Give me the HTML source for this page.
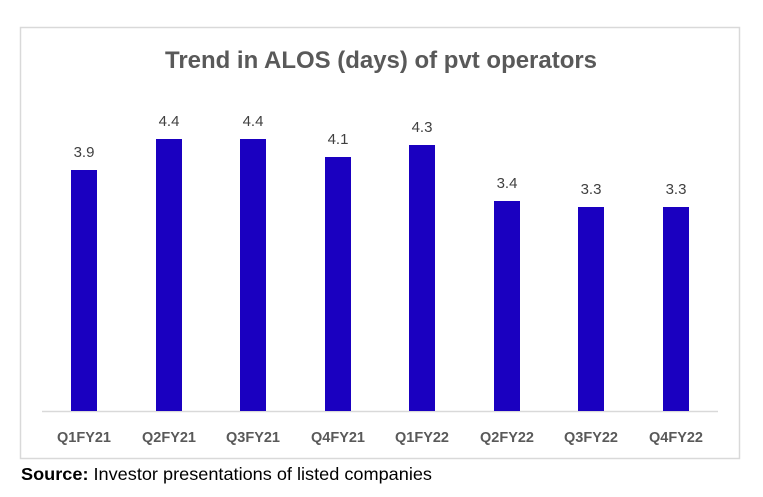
<!DOCTYPE html>
<html><head><style>
body{margin:0;background:#fff;width:763px;height:492px;overflow:hidden}
</style></head><body>
<svg width="763" height="492" xmlns="http://www.w3.org/2000/svg" font-family="Liberation Sans, sans-serif">
<rect x="20.5" y="27.5" width="719" height="431" fill="#fff" stroke="#d9d9d9" stroke-width="1.5"/>
<text x="381" y="68" text-anchor="middle" font-size="24" font-weight="bold" fill="#595959" textLength="432" lengthAdjust="spacingAndGlyphs">Trend in ALOS (days) of pvt operators</text>
<line x1="42" y1="411.5" x2="718" y2="411.5" stroke="#d9d9d9" stroke-width="1.5"/>
<g fill="#1a00c0">
<rect x="71" y="170" width="26" height="241"/>
<rect x="156" y="139" width="26" height="272"/>
<rect x="240" y="139" width="26" height="272"/>
<rect x="325" y="157" width="26" height="254"/>
<rect x="409" y="145" width="26" height="266"/>
<rect x="494" y="201" width="26" height="210"/>
<rect x="578" y="207" width="26" height="204"/>
<rect x="663" y="207" width="26" height="204"/>
</g>
<g font-size="15" fill="#404040" text-anchor="middle">
<text x="84" y="157">3.9</text>
<text x="169" y="126">4.4</text>
<text x="253" y="126">4.4</text>
<text x="338" y="144">4.1</text>
<text x="422" y="132">4.3</text>
<text x="507" y="188">3.4</text>
<text x="591" y="194">3.3</text>
<text x="676" y="194">3.3</text>
</g>
<g font-size="14.5" font-weight="bold" fill="#595959" text-anchor="middle">
<text x="84" y="442">Q1FY21</text>
<text x="169" y="442">Q2FY21</text>
<text x="253" y="442">Q3FY21</text>
<text x="338" y="442">Q4FY21</text>
<text x="422" y="442">Q1FY22</text>
<text x="507" y="442">Q2FY22</text>
<text x="591" y="442">Q3FY22</text>
<text x="676" y="442">Q4FY22</text>
</g>
<text x="21" y="480" font-size="17.5" fill="#000" textLength="411" lengthAdjust="spacingAndGlyphs"><tspan font-weight="bold">Source:</tspan> Investor presentations of listed companies</text>
</svg>
</body></html>
